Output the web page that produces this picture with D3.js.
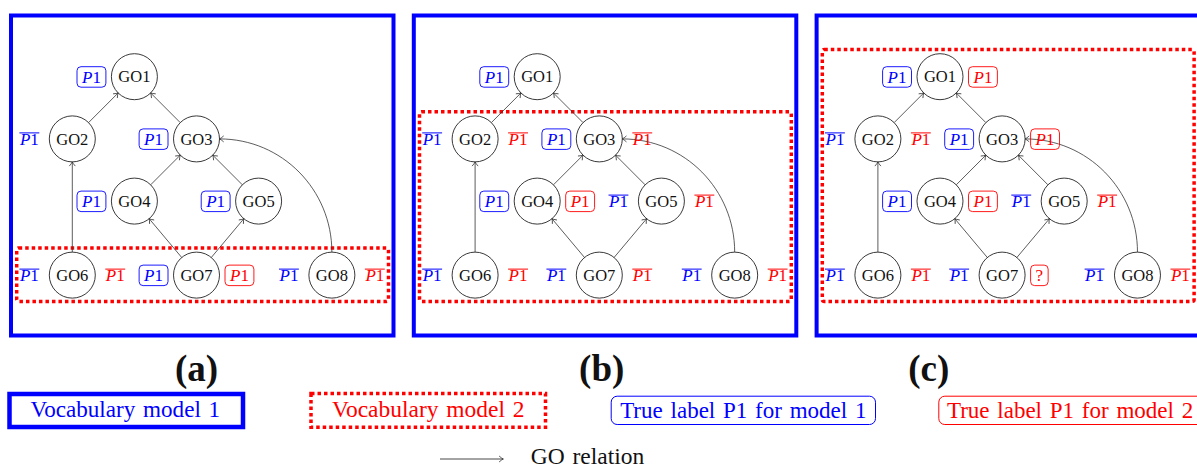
<!DOCTYPE html>
<html>
<head>
<meta charset="utf-8">
<script src="https://cdn.jsdelivr.net/npm/d3@7"></script>
<style>
  body { margin: 0; background: #fff; }
  svg { display: block; }
  text { font-family: "Liberation Serif", "DejaVu Serif", serif; }
</style>
</head>
<body>
<svg id="chart" width="1197" height="469"></svg>
<script>
// ---------------- DATA ----------------
const nodeNames = ["GO1", "GO2", "GO3", "GO4", "GO5", "GO6", "GO7", "GO8"];
const nodeCol   = [1, 0, 2, 1, 3, 0, 2, 4.18];
const nodeRow   = [0, 1, 1, 2, 2, 3.19, 3.19, 3.19];

const edgeFrom   = ["GO2", "GO3", "GO6", "GO4", "GO5", "GO7", "GO7", "GO8"];
const edgeTo     = ["GO1", "GO1", "GO2", "GO3", "GO3", "GO4", "GO5", "GO3"];
const edgeCurved = [false, false, false, false, false, false, false, true];

const panelCaptions = ["(a)", "(b)", "(c)"];

// "T" = true label (boxed P1), "F" = false label (overlined P1), "?" = unknown, null = none
const model1Labels = [
  ["T", "F", "T", "T", "T", "F", "T", "F"],
  ["T", "F", "T", "T", "F", "F", "F", "F"],
  ["T", "F", "T", "T", "F", "F", "F", "F"]
];
const model2Labels = [
  [null, null, null, null, null, "F", "T", "F"],
  [null, "F",  "F",  "T",  "F",  "F", "F", "F"],
  ["T",  "F",  "T",  "T",  "F",  "F", "?", "F"]
];

const legendLabels = ["Vocabulary model 1", "Vocabulary model 2",
                      "True label P1 for model 1", "True label P1 for model 2"];
const relationLabel = "GO relation";

// ---------------- STYLE / LAYOUT ----------------
const BLUE = "#0000ff", RED = "#ff0000", INK = "#222", EDGE = "#333";
const R = 23;            // node radius
const LABEL_GAP = 28.5;  // distance from node centre to label node edge
const PAD = 5;           // label inner padding
const captionX = [196.5, 601.7, 928.7];

const svg = d3.select("#chart");

const panelX = d3.scaleLinear().domain([0, 1]).range([0, 402.8]);
const colX   = d3.scaleLinear().domain([0, 1]).range([72.3, 134.4]);
const rowY   = d3.scaleLinear().domain([0, 1]).range([76.7, 138.9]);

const nodes = nodeNames.map((n, i) => ({ name: n, col: nodeCol[i], row: nodeRow[i] }));
const byName = Object.fromEntries(nodes.map(d => [d.name, d]));
const edges = edgeFrom.map((f, i) => ({ from: byName[f], to: byName[edgeTo[i]], curved: edgeCurved[i] }));

// fit a text to a measured width by adjusting its font size
function fitText(t, target, base) {
  t.attr("font-size", base);
  const w = t.node().getComputedTextLength();
  t.attr("font-size", base * target / w);
  return t;
}

// arrow marker (LaTeX "to" style)
const defs = svg.append("defs");
defs.append("marker")
  .attr("id", "arr")
  .attr("viewBox", "-6 -4 7 8")
  .attr("refX", 0).attr("refY", 0)
  .attr("markerWidth", 7).attr("markerHeight", 8)
  .attr("markerUnits", "userSpaceOnUse")
  .attr("orient", "auto")
  .append("path")
  .attr("d", "M-4.2,-3 Q-1.6,-0.7 0,0 Q-1.6,0.7 -4.2,3")
  .attr("fill", "none").attr("stroke", EDGE).attr("stroke-width", 0.8);

function p1Text(sel, color) {
  const t = sel.append("text").attr("fill", color).attr("font-size", 17).attr("text-anchor", "middle");
  t.append("tspan").attr("font-style", "italic").text("P");
  t.append("tspan").text("1");
  return t;
}

function drawLabel(g, cx, cy, side, kind, color) {
  if (!kind) return;
  let t;
  if (kind === "?") {
    t = g.append("text").attr("fill", color).attr("font-size", 17).attr("text-anchor", "middle").text("?");
  } else {
    t = p1Text(g, color);
  }
  const w = t.node().getComputedTextLength();
  const bw = w + 2 * PAD;
  const lx = side < 0 ? cx - LABEL_GAP - bw / 2 : cx + LABEL_GAP + bw / 2;
  t.attr("x", lx);
  if (kind === "F") {
    t.attr("y", cy + 6.3);
    g.append("line")
      .attr("x1", lx - w / 2 - 0.5).attr("x2", lx + w / 2 + 0.5)
      .attr("y1", cy - 6).attr("y2", cy - 6)
      .attr("stroke", color).attr("stroke-width", 1);
  } else {
    t.attr("y", cy + 5.8);
    g.insert("rect", "text")
      .attr("x", lx - bw / 2).attr("y", cy - 10)
      .attr("width", bw).attr("height", 20.5)
      .attr("rx", 4).attr("ry", 4)
      .attr("fill", "none").attr("stroke", color).attr("stroke-width", 0.9);
  }
}

panelCaptions.forEach((cap, p) => {
  const g = svg.append("g").attr("transform", `translate(${panelX(p)},0)`);

  // Vocabulary model 1 frame
  g.append("rect")
    .attr("x", 11).attr("y", 15.5).attr("width", 382.5).attr("height", 320)
    .attr("fill", "none").attr("stroke", BLUE).attr("stroke-width", 4);

  // Vocabulary model 2 frame (around nodes that model 2 knows)
  const members = nodes.filter((d, i) => model2Labels[p][i] !== null);
  const ys = members.map(d => rowY(d.row));
  const top = d3.min(ys) - 27.2, bottom = d3.max(ys) + 26.3;
  g.append("rect")
    .attr("x", 16.7).attr("y", top).attr("width", 371.8).attr("height", bottom - top)
    .attr("rx", 2)
    .attr("fill", "none").attr("stroke", RED).attr("stroke-width", 3.5)
    .attr("stroke-dasharray", "3.5 3");

  // edges
  edges.forEach(e => {
    const sx = colX(e.from.col), sy = rowY(e.from.row);
    const tx = colX(e.to.col), ty = rowY(e.to.row);
    const path = d3.path();
    if (e.curved) {
      const x0 = sx, y0 = sy - R, x1 = tx + R, y1 = ty;
      const k = 0.3915 * Math.hypot(x1 - x0, y1 - y0);
      path.moveTo(x0, y0);
      path.bezierCurveTo(x0, y0 - k, x1 + k, y1, x1, y1);
    } else {
      const L = Math.hypot(tx - sx, ty - sy);
      const ux = (tx - sx) / L, uy = (ty - sy) / L;
      path.moveTo(sx + ux * R, sy + uy * R);
      path.lineTo(tx - ux * R, ty - uy * R);
    }
    g.append("path").attr("d", path.toString())
      .attr("fill", "none").attr("stroke", EDGE).attr("stroke-width", 0.8)
      .attr("marker-end", "url(#arr)");
  });

  // nodes
  nodes.forEach((n, i) => {
    const cx = colX(n.col), cy = rowY(n.row);
    g.append("circle").attr("cx", cx).attr("cy", cy).attr("r", R)
      .attr("fill", "none").attr("stroke", INK).attr("stroke-width", 0.9);
    g.append("text").attr("x", cx).attr("y", cy + 5.6)
      .attr("text-anchor", "middle").attr("font-size", 16.5).attr("fill", "#111")
      .text(n.name);
    drawLabel(g, cx, cy, -1, model1Labels[p][i], BLUE);
    drawLabel(g, cx, cy, +1, model2Labels[p][i], RED);
  });

  // caption
  svg.append("text")
    .attr("x", captionX[p]).attr("y", 380.5)
    .attr("text-anchor", "middle")
    .attr("font-size", 37).attr("font-weight", "bold").attr("fill", "#111")
    .text(cap);
});

// ---------------- LEGEND ----------------
const lg = svg.append("g");
// Vocabulary model 1
lg.append("rect").attr("x", 9.5).attr("y", 394).attr("width", 233.5).attr("height", 33)
  .attr("fill", "none").attr("stroke", BLUE).attr("stroke-width", 4.5);
fitText(lg.append("text").attr("x", 125.3).attr("y", 417).attr("text-anchor", "middle")
  .attr("fill", BLUE).attr("word-spacing", 2).text(legendLabels[0]), 190, 22);

// Vocabulary model 2
lg.append("rect").attr("x", 311).attr("y", 393.5).attr("width", 234.5).attr("height", 33.7)
  .attr("fill", "none").attr("stroke", RED).attr("stroke-width", 3.5)
  .attr("stroke-dasharray", "3.5 3");
fitText(lg.append("text").attr("x", 428.3).attr("y", 417).attr("text-anchor", "middle")
  .attr("fill", RED).attr("word-spacing", 2).text(legendLabels[1]), 193, 22);

// True label P1 for model 1
lg.append("rect").attr("x", 611.2).attr("y", 396.2).attr("width", 264.3).attr("height", 28.3)
  .attr("rx", 6).attr("ry", 6)
  .attr("fill", "none").attr("stroke", BLUE).attr("stroke-width", 1);
fitText(lg.append("text").attr("x", 743.3).attr("y", 418).attr("text-anchor", "middle")
  .attr("fill", BLUE).attr("word-spacing", 2).text(legendLabels[2]), 247, 22);

// True label P1 for model 2 (runs off the right edge, as in the reference)
lg.append("rect").attr("x", 938.8).attr("y", 396.2).attr("width", 264.3).attr("height", 28.3)
  .attr("rx", 6).attr("ry", 6)
  .attr("fill", "none").attr("stroke", RED).attr("stroke-width", 1);
fitText(lg.append("text").attr("x", 946.9).attr("y", 418)
  .attr("fill", RED).attr("word-spacing", 2).text(legendLabels[3]), 247, 22);

// GO relation arrow
const ap = d3.path();
ap.moveTo(440, 459); ap.lineTo(503.3, 459);
lg.append("path").attr("d", ap.toString())
  .attr("stroke", EDGE).attr("stroke-width", 0.9).attr("fill", "none")
  .attr("marker-end", "url(#arr)");
fitText(lg.append("text").attr("x", 530.7).attr("y", 464)
  .attr("fill", "#111").attr("word-spacing", 2).text(relationLabel), 114, 20);
</script>
</body>
</html>
